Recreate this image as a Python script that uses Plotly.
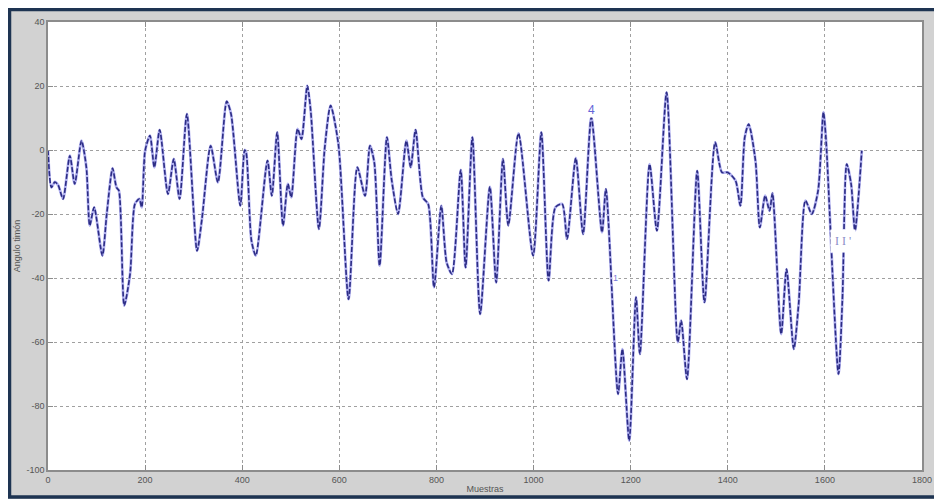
import plotly.graph_objects as go

muestras = [0, 7, 14, 21, 31, 45, 55, 69, 79, 86, 95, 112, 121, 133, 141, 146, 157, 169, 179, 188,
            193, 200, 210, 219, 230, 247, 259, 271, 286, 307, 317, 335, 350, 368, 377, 396, 405, 408,
            419, 428, 452, 461, 472, 484, 494, 501, 514, 522, 534, 541, 558, 570, 582, 598, 619, 637,
            653, 663, 672, 683, 698, 708, 721, 738, 747, 757, 772, 783, 795, 810, 821, 832, 850, 860,
            874, 890, 910, 923, 937, 948, 969, 999, 1016, 1031, 1045, 1059, 1069, 1087, 1102, 1119,
            1141, 1149, 1174, 1183, 1197, 1211, 1219, 1239, 1254, 1274, 1297, 1304, 1316, 1337, 1352,
            1374, 1388, 1400, 1416, 1426, 1435, 1443, 1457, 1466, 1477, 1486, 1492, 1510, 1521, 1536,
            1546, 1560, 1573, 1586, 1597, 1602, 1628, 1636, 1645, 1654, 1662, 1676]
angulo = [0, -11.7, -10, -11, -15.3, -1.8, -10.6, 2.9, -5.4, -23.6, -17.9, -33, -20, -5.7, -11.7, -12.7,
          -48.6, -38.8, -16.9, -15.3, -17.9, -0.2, 4.5, -5.4, 6.3, -13.75, -2.8, -15.3, 11.25, -31.5,
          -21.6, 1.35, -10.1, 15.2, 11.25, -17.4, 0, -0.7, -28.3, -33, -3.3, -14.3, 5.5, -23.6, -10.6,
          -14.8, 6.6, 3.4, 20.1, 12.3, -24.7, 0.8, 13.9, 1.9, -46.6, -5.4, -14.3, 1.35, -3.9, -36.1, 4,
          -9.6, -20, 2.9, -5.4, 6.3, -14.8, -16.9, -42.9, -17.4, -35.1, -38.75, -6.25, -36.7, 4,
          -51.25, -11.5, -41.4, -2.8, -23.6, 5.2, -33, 5.5, -40.8, -17.9, -16.9, -27.8, -2.5, -26.25,
          10.2, -25.7, -12.2, -76.25, -62.2, -90.8, -46, -63.75, -4.4, -25.2, 18, -60, -53.3, -71.6,
          -6.5, -47.6, 2.4, -7, -7, -9.6, -17.4, 4, 8.1, -3.3, -24.2, -14.3, -19, -13.5, -57.5, -37.2,
          -62.2, -48, -15.8, -20, -12.7, 11.8, 4, -70, -47, -4.4, -10.6, -25.2, -0.2]

x_ticks = [0, 200, 400, 600, 800, 1000, 1200, 1400, 1600, 1800]
y_ticks = [-100, -80, -60, -40, -20, 0, 20, 40]

# page has an 8px body margin; figure sits at (8, 8)
W, H = 934, 491
L, R, T, B = 40, 20, 14, 29
pw, ph = W - L - R, H - T - B


def px(xp):
    return (xp - L) / pw


def py(yp):
    return (H - B - yp) / ph


fig = go.Figure()
fig.add_trace(go.Scatter(x=muestras, y=angulo, mode="lines",
                         line=dict(color="#b2b2f0", width=2.8, shape="spline", smoothing=0.7),
                         hoverinfo="skip", showlegend=False))
fig.add_trace(go.Scatter(x=muestras, y=angulo, mode="lines",
                         line=dict(color="#2c2c84", width=1.6, dash="5px,2px", shape="spline", smoothing=0.7),
                         showlegend=False))

axis_common = dict(showgrid=True, gridcolor="#a0a0a0", griddash="dot", gridwidth=1,
                   zeroline=False, showline=True, linecolor="#8c8c8c", linewidth=1.5,
                   mirror="ticks", ticks="inside", ticklen=5, tickcolor="#8c8c8c", automargin=False,
                   tickfont=dict(family="Liberation Sans, Arial", size=9, color="#555555"))

fig.update_xaxes(range=[0, 1800], tickvals=x_ticks, ticktext=[str(v) for v in x_ticks],
                 title=dict(text="Muestras", font=dict(family="Liberation Sans, Arial", size=9, color="#555555"),
                            standoff=2),
                 **axis_common)
fig.update_yaxes(range=[-100, 40], tickvals=y_ticks, ticktext=[str(v) for v in y_ticks],
                 title=dict(text="Angulo timón", font=dict(family="Liberation Sans, Arial", size=9, color="#555555"),
                            standoff=4),
                 **axis_common)

shapes = [
    dict(type="rect", xref="paper", yref="paper", x0=px(1.5), x1=px(932), y0=py(1.5), y1=py(489),
         fillcolor="rgba(0,0,0,0)", line=dict(color="#1e3452", width=3.5), layer="above"),
]

annotations = [
    dict(x=1120, y=12.5, xref="x", yref="y", text="4", showarrow=False,
         font=dict(family="Liberation Sans, Arial", size=12, color="#6464d8"), bgcolor="white",
         borderpad=0),
    dict(x=1168, y=-40, xref="x", yref="y", text="1", showarrow=False,
         font=dict(family="Liberation Sans, Arial", size=9, color="#7a7ad8"), bgcolor="white",
         borderpad=0),
    dict(x=1637, y=-28.5, xref="x", yref="y", text="I I '", showarrow=False,
         font=dict(family="Liberation Serif, Times New Roman", size=12, color="#8c8cc8"), bgcolor="white",
         borderpad=4),
]

fig.update_layout(width=W, height=H, margin=dict(l=L, r=R, t=T, b=B),
                  paper_bgcolor="#d2d2d2", plot_bgcolor="white",
                  shapes=shapes, annotations=annotations, showlegend=False)

fig.write_html("out.html")
